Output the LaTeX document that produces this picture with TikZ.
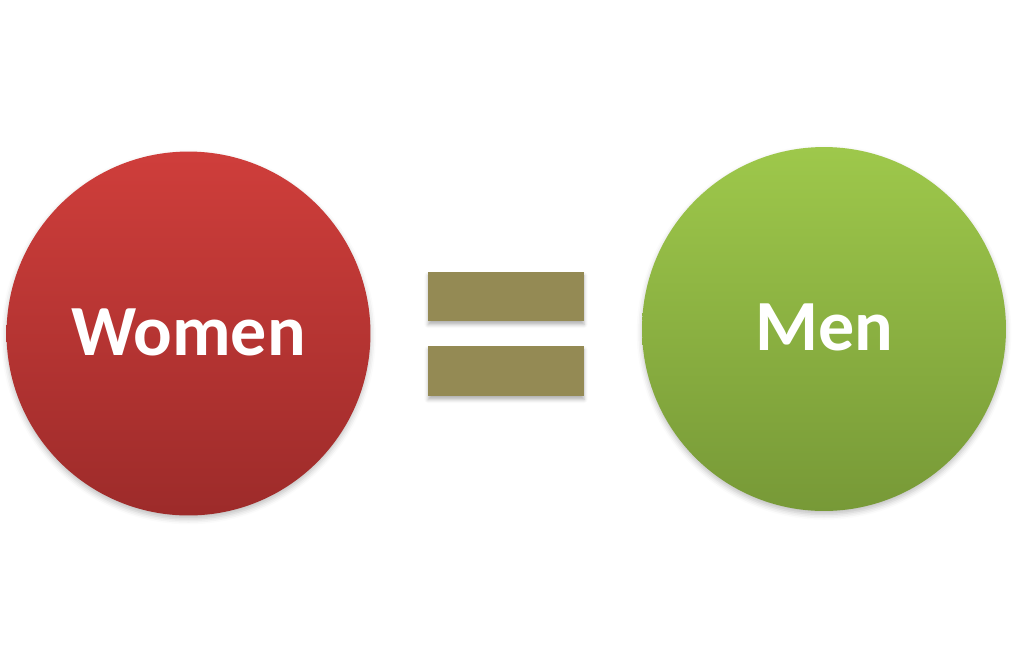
\documentclass[tikz,border=0pt]{standalone}
\usepackage{fontspec}
\setmainfont{Carlito}
\usetikzlibrary{shadows.blur}
\definecolor{womentop}{HTML}{CF3E3B}
\definecolor{womenbot}{HTML}{9D2B2A}
\definecolor{mentop}{HTML}{9EC84B}
\definecolor{menbot}{HTML}{779937}
\definecolor{eqbar}{HTML}{948A54}
\tikzset{
	ball/.style={circle, minimum size=7.28cm, inner sep=0pt, text=white,
		font=\fontsize{41}{48}\selectfont\bfseries,
		blur shadow={shadow xshift=0pt, shadow yshift=-2pt, shadow blur radius=3pt, shadow opacity=25}},
	bar/.style={fill=eqbar, blur shadow={shadow xshift=0pt, shadow yshift=-2pt, shadow blur radius=2pt, shadow opacity=30}}
}

\begin{document}
\begin{tikzpicture}[x=0.02cm,y=-0.02cm]
	\useasboundingbox (0,0) rectangle (1013,667);
	\node [ball, top color=womentop, bottom color=womenbot, text depth=2pt] (women) at (188.5,333.5) {Women};
	\node [ball, top color=mentop, bottom color=menbot, text depth=2pt] (men) at (824,329) {Men};
	\draw [bar, draw=none] (428,272) rectangle (584,321);
	\draw [bar, draw=none] (428,346) rectangle (584,396);
\end{tikzpicture}
\end{document}
